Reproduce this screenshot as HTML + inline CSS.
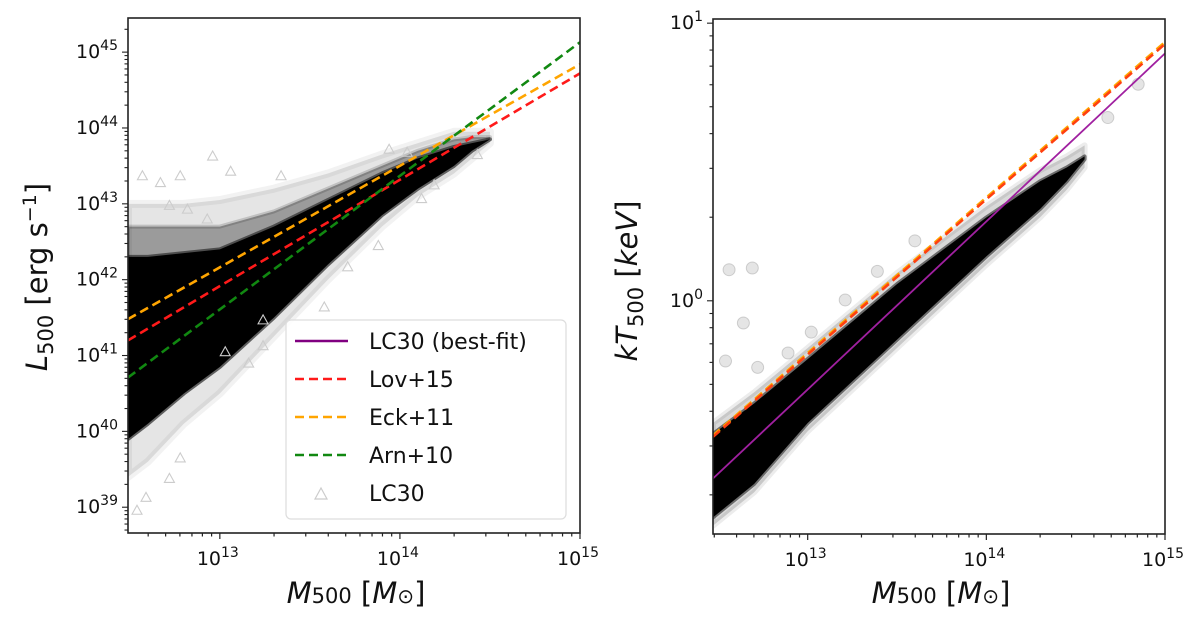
<!DOCTYPE html>
<html><head><meta charset="utf-8"><style>
body{margin:0;background:#fff;width:1200px;height:631px;overflow:hidden;font-family:"DejaVu Sans","Liberation Sans",sans-serif}
svg{display:block}
</style></head><body>
<svg id="fig" width="1200" height="631" xmlns="http://www.w3.org/2000/svg"></svg>
<script>
// ---------- data ----------
const massRange = [12.49, 15.0];
const lumRange = [38.66, 45.45];
const tempRange = [-0.84, 1.015];
const massTicks = [13, 14, 15];
const massTickLabels = ["13", "14", "15"];
const lumTicks = [39, 40, 41, 42, 43, 44, 45];
const tempTicks = [0, 1];
const lovLine = [41.2, 44.72];
const eckLine = [41.48, 44.84];
const arnLine = [40.71, 45.13];
const tEck = [-0.485, 0.932];
const tLov = [-0.49, 0.925];
const tFit = [-0.64, 0.891];
// left scatter envelope
const lcX = [12.49, 12.6, 12.8, 13.0, 13.3, 13.6, 13.9, 14.1, 14.3, 14.4, 14.5];
const lcUpper = [42.3, 42.3, 42.35, 42.4, 42.7, 43.05, 43.4, 43.6, 43.75, 43.8, 43.85];
const lcLower = [39.9, 40.1, 40.5, 40.85, 41.5, 42.2, 42.85, 43.2, 43.5, 43.7, 43.85];
const lcMidUp = [42.7, 42.7, 42.7, 42.7, 42.9, 43.2, 43.5, 43.7, 43.85, 43.88, 43.88];
const lcFringeUp = [43.0, 43.0, 43.0, 43.05, 43.2, 43.4, 43.65, 43.8, 43.95, 43.95, 43.95];
const lcFringeLo = [39.4, 39.6, 40.1, 40.5, 41.25, 42.0, 42.7, 43.1, 43.4, 43.6, 43.8];
const lcOutX = [12.57,12.78,12.67,13.06,12.96,13.34,12.72,12.82,12.93,13.94,14.04,14.19,14.12,14.43,13.71,13.88,13.58,13.24,13.16,13.24,13.03,12.78,12.72,12.54,12.59];
const lcOutY = [43.37,43.37,43.28,43.43,43.63,43.37,42.98,42.93,42.80,43.72,43.68,43.25,43.07,43.65,42.17,42.45,41.64,41.13,40.9,41.47,41.05,39.65,39.38,38.96,39.13];
// right scatter envelope
const tcX = [12.47, 12.7, 13.0, 13.5, 14.0, 14.3, 14.45, 14.55];
const tcUpper = [-0.48, -0.37, -0.21, 0.06, 0.3, 0.43, 0.48, 0.52];
const tcLower = [-0.78, -0.66, -0.44, -0.14, 0.16, 0.33, 0.43, 0.51];
const tcOutX = [12.56,12.69,12.64,12.54,13.6,13.39,13.21,13.02,12.89,12.72,14.68,14.85];
const tcOutY = [0.112,0.118,-0.08,-0.217,0.216,0.106,0.003,-0.113,-0.188,-0.24,0.66,0.78];

const NS = "http://www.w3.org/2000/svg";
const svg = document.getElementById('fig');
function el(tag, attrs, parent){const e=document.createElementNS(NS,tag);for(const k in attrs)e.setAttribute(k,attrs[k]);(parent||svg).appendChild(e);return e;}

function panel(px0, px1, py0, py1, xr, yr, name){
  const g = el('g', {});
  
  
  const X = v => px0 + (v - xr[0])/(xr[1]-xr[0])*(px1-px0);
  const Y = v => py1 - (v - yr[0])/(yr[1]-yr[0])*(py1-py0);
  const clipId = name+'-clip';
  const cp = el('clipPath', {id: clipId}, g);
  el('rect', {x:px0, y:py0, width:px1-px0, height:py1-py0}, cp);
  const plot = el('g', {'clip-path':'url(#'+clipId+')'}, g);
  return {g, X, Y, plot, px0, px1, py0, py1, xr, yr};
}
function band(p, xs, up, lo, fill, op, name, sw){
  let d = xs.map((x,i)=>(i?'L':'M')+p.X(x)+','+p.Y(up[i])).join(' ');
  for(let i=xs.length-1;i>=0;i--) d += ' L'+p.X(xs[i])+','+p.Y(lo[i]);
  const e = el('path', {d:d+'Z', fill, 'fill-opacity':op, stroke:fill, 'stroke-opacity':op*0.5, 'stroke-width':sw||4, 'stroke-linejoin':'round'}, p.plot);
  
  
}
function line(p, ends, color, dash, name, w){
  const e = el('line', {x1:p.X(p.xr[0]), y1:p.Y(ends[0]), x2:p.X(p.xr[1]), y2:p.Y(ends[1]), stroke:color, 'stroke-width':w||2.6, 'stroke-dasharray':dash||'none'}, p.plot);
  
  
}
function axes(p, yTicks){
  el('rect', {x:p.px0, y:p.py0, width:p.px1-p.px0, height:p.py1-p.py0, fill:'none', stroke:'#222', 'stroke-width':1.6}, p.g);
  for(let dec=12; dec<=14; dec++){
    for(let m=2;m<10;m++){
      const v = dec + Math.log10(m);
      if(v < p.xr[0]-1e-6 || v > p.xr[1]+1e-6) continue;
      const x = p.X(v);
      el('line', {x1:x, y1:p.py1, x2:x, y2:p.py1+3.5, stroke:'#222', 'stroke-width':1.2}, p.g);
    }
  }
  massTicks.forEach((t,i)=>{
    const x = p.X(t);
    el('line', {x1:x, y1:p.py1, x2:x, y2:p.py1+6, stroke:'#222', 'stroke-width':1.2}, p.g);
    const tx = el('text', {x:x-2, y:p.py1+32, 'font-size':19, 'text-anchor':'middle', fill:'#111'}, p.g);
    
    
    tx.innerHTML = '10<tspan dy="-8" font-size="14">'+massTickLabels[i]+'</tspan>';
  });
  const yd0 = Math.floor(p.yr[0]), yd1 = Math.ceil(p.yr[1]);
  for(let dec=yd0; dec<=yd1; dec++){
    for(let m=1;m<10;m++){
      const v = dec + Math.log10(m);
      if(v < p.yr[0] || v > p.yr[1]) continue;
      const y = p.Y(v);
      el('line', {x1:p.px0-(m===1?6:3.5), y1:y, x2:p.px0, y2:y, stroke:'#222', 'stroke-width':1.1}, p.g);
    }
  }
  yTicks.forEach(t=>{
    const y = p.Y(t);
    const tx = el('text', {x:p.px0-10, y:y+6, 'font-size':19, 'text-anchor':'end', fill:'#111'}, p.g);
    
    
    tx.innerHTML = '10<tspan dy="-8" font-size="14">'+t+'</tspan>';
  });
  const xl = el('text', {x:(p.px0+p.px1)/2+2, y:603, 'font-size':29, 'text-anchor':'middle', fill:'#111'}, p.g);
  
  
  xl.innerHTML = '<tspan font-style="italic">M</tspan><tspan font-size="21">500</tspan> [<tspan font-style="italic">M</tspan><tspan font-size="20">⊙</tspan>]';
}

// ----- left panel -----
const L = panel(128, 580, 18, 533, massRange, lumRange, 'lum-mass-panel');
band(L, lcX, lcFringeUp, lcFringeLo, '#000', 0.1, 'lc30-scatter-fringe', 8);
band(L, lcX, lcMidUp, lcLower, '#000', 0.32, 'lc30-scatter-mid', 4);
band(L, lcX, lcUpper, lcLower, '#000', 1, 'lc30-scatter-core', 4);
lcOutX.forEach((x,i)=>{
  const cx=L.X(x), cy=L.Y(lcOutY[i]);
  const t = el('path', {d:`M${cx-5},${cy+4} L${cx},${cy-5} L${cx+5},${cy+4}Z`, fill:'none', stroke:'#ccc', 'stroke-width':1.1}, L.plot);
  
  
});
line(L, eckLine, '#ffa500', '9,5', 'eck11-line');
line(L, lovLine, '#ff1a1a', '9,5', 'lov15-line');
line(L, arnLine, '#118811', '9,5', 'arn10-line');
axes(L, lumTicks);
const yl = el('text', {x:0, y:0, 'font-size':29, 'text-anchor':'middle', fill:'#111', transform:'translate(47,277) rotate(-90)'});


yl.innerHTML = '<tspan font-style="italic">L</tspan><tspan font-size="21" dy="6">500</tspan><tspan dy="-6"> [erg s</tspan><tspan font-size="19" dy="-11">−1</tspan><tspan dy="11">]</tspan>';

// legend
const lg = el('g', {});


el('rect', {x:286, y:320, width:280, height:199, rx:5, fill:'#fff', 'fill-opacity':0.85, stroke:'#ddd', 'stroke-width':1.2}, lg);
const legItems = [['LC30 (best-fit)','#800080','none'],['Lov+15','#ff1a1a','9,5'],['Eck+11','#ffa500','9,5'],['Arn+10','#118811','9,5'],['LC30','','']];
legItems.forEach((it,i)=>{
  const y = 341 + i*38;
  const row = el('g', {}, lg);
  
  
  if(it[1]) el('line', {x1:295, y1:y, x2:348, y2:y, stroke:it[1], 'stroke-width':2.6, 'stroke-dasharray':it[2]}, row);
  else el('path', {d:`M315,${y+6} L321,${y-5} L327,${y+6}Z`, fill:'none', stroke:'#ccc', 'stroke-width':1.2}, row);
  const t = el('text', {x:369, y:y+8, 'font-size':22, fill:'#111'}, row);
  t.textContent = it[0];
});

// ----- right panel -----
const R = panel(713, 1165, 19, 534, [12.47, 15.0], tempRange, 'temp-mass-panel');
band(R, tcX, tcUpper.map(v=>v+0.04), tcLower.map(v=>v-0.03), '#000', 0.15, 'lc30-temp-fringe', 6);
band(R, tcX, tcUpper, tcLower, '#000', 1, 'lc30-temp-core', 4);
tcOutX.forEach((x,i)=>{
  const c = el('circle', {cx:R.X(x), cy:R.Y(tcOutY[i]), r:6, fill:'#999', 'fill-opacity':0.25, stroke:'#888', 'stroke-opacity':0.35}, R.plot);
  
  
});
line(R, tFit, '#a020a0', 'none', 'best-fit-line', 1.8);
line(R, tEck, '#ffa500', '9,5', 'eck11-temp-line');
line(R, tLov, '#ff4010', '9,5', 'lov15-temp-line');
axes(R, tempTicks);
const yr2 = el('text', {x:0, y:0, 'font-size':29, 'text-anchor':'middle', fill:'#111', transform:'translate(637,281) rotate(-90)'});


yr2.innerHTML = '<tspan font-style="italic">kT</tspan><tspan font-size="21" dy="6">500</tspan><tspan dy="-6"> [</tspan><tspan font-style="italic">keV</tspan>]';
</script>
</body></html>
